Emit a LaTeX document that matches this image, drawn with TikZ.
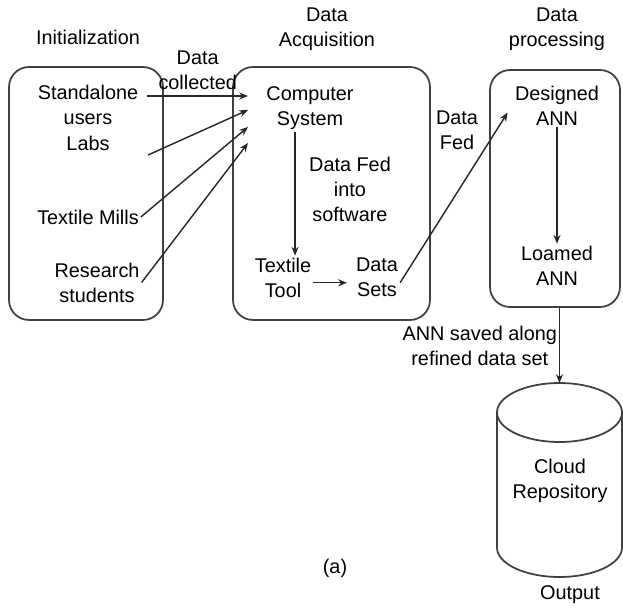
\documentclass[tikz,border=0pt]{standalone}
\usepackage{fontspec}
\setmainfont{Liberation Sans}
\usetikzlibrary{arrows.meta}

\tikzset{
  stage/.style={draw=black!75, line width=1pt, rounded corners=0.4cm},
  arr/.style={draw=black!85, line width=0.8pt, -{Stealth[length=5pt,width=4pt]}},
  txt/.style={align=center, inner sep=1pt}
}

\begin{document}
\begin{tikzpicture}[x=0.02cm, y=-0.02cm, font=\fontsize{11.3}{14.2}\selectfont]
	\useasboundingbox (0,0) rectangle (623,609);

	% Draw the three stage boxes
	\node (init) at (86,193.5) [stage, minimum width=3.08cm, minimum height=5.06cm] {};
	\node (acq) at (331.5,193.5) [stage, minimum width=3.94cm, minimum height=5.06cm] {};
	\node (proc) at (555,188.5) [stage, minimum width=2.6cm, minimum height=4.74cm] {};

	% The repository is a cylinder
	\draw[black!75, line width=1pt] (497,412.5) -- (497,547.5)
		arc[start angle=180, end angle=360, x radius=1.25cm, y radius=0.59cm] -- (622,412.5);
	\draw[black!75, line width=1pt] (559.5,412.5) ellipse [x radius=1.25cm, y radius=0.59cm];
	\coordinate (repotop) at (559.5,383);
	\node (cloud) at (560,481) [txt] {Cloud\\Repository};

	% Then add the headings
	\node (hinit) at (88,37) [txt] {Initialization};
	\node (hacq) at (327,29) [txt] {Data\\Acquisition};
	\node (hproc) at (557,29) [txt] {Data\\processing};
	\node (hout) at (570,595) [txt] {Output};
	\node (cap) at (335,568) [txt] {(a)};

	% Sources of the data
	\node (stand) at (88,104.5) [txt] {Standalone\\users};
	\node (labs) at (88,143) [txt] {Labs};
	\node (mills) at (88,217) [txt] {Textile Mills};
	\node (res) at (97,282.5) [txt] {Research\\students};

	% Inside the acquisition box
	\node (comp) at (310,108.5) [txt] {Computer\\System};
	\node (fedsw) at (350,189) [txt] {Data Fed\\into\\software};
	\node (tool) at (283,277.5) [txt] {Textile\\Tool};
	\node (dsets) at (377,277.5) [txt] {Data\\Sets};

	% Inside the processing box
	\node (dann) at (557,105.5) [txt] {Designed\\ANN};
	\node (lann) at (557,265.5) [txt] {Loamed\\ANN};
	\node (fed) at (457,130.5) [txt] {Data\\Fed};

	% Free ends of the incoming arrows
	\coordinate (in1) at (248,96);
	\coordinate (in2) at (248,110);
	\coordinate (in3) at (248,127);
	\coordinate (in4) at (248,143);
	\coordinate (out2) at (148,155);

	% Now the connectors
	\draw[arr] ([xshift=4pt]stand.east |- in1) -- node (coll) [txt, above=2pt] {Data\\collected} (in1);
	\draw[arr] (out2) -- (in2);
	\draw[arr] (mills.east) -- (in3);
	\draw[arr] (res.east) -- (in4);
	\draw[arr] ([xshift=-8.5pt]comp.south) -- ([xshift=-8.5pt]comp.south |- tool.north);
	\draw[arr, shorten >=4pt] ([yshift=-3pt]tool.east) -- ([yshift=-3pt]dsets.west);
	\draw[arr] ([yshift=-3pt]dsets.east) -- ([xshift=-3pt,yshift=-4pt]dann.west);
	\draw[arr] (dann.south) -- (lann.north);
	\draw[arr] (proc.south -| repotop) -- node (saved) [txt, left=0pt] {ANN saved along\\refined data set} (repotop);
\end{tikzpicture}
\end{document}
